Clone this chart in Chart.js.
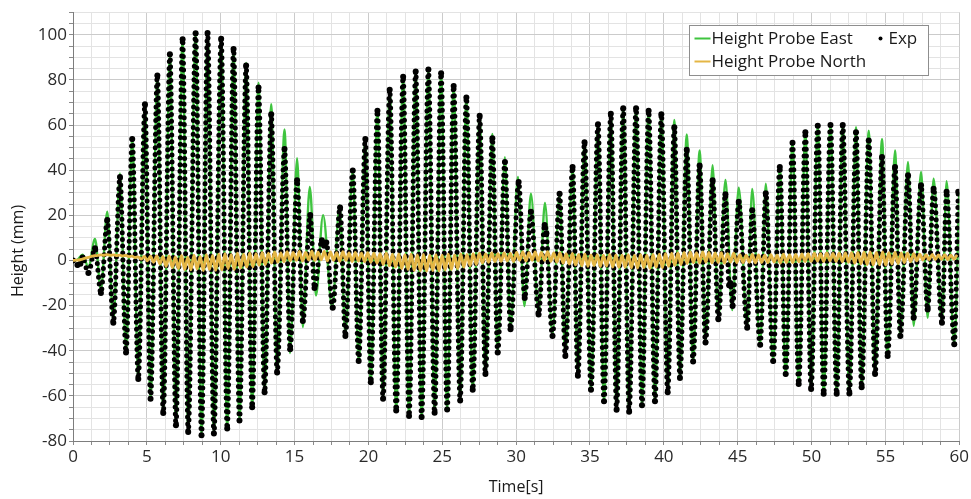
<!DOCTYPE html>
<html>
<head>
<meta charset="utf-8">
<script src="https://cdn.jsdelivr.net/npm/chart.js@4/dist/chart.umd.min.js"></script>
<style>
  html, body { margin: 0; padding: 0; background: #ffffff; }
  #wrap { width: 971px; height: 499px; }
</style>
</head>
<body>
<div id="wrap"><canvas id="c" width="971" height="499"></canvas></div>
<script>
// Wave height at the east probe: simulated turning points (time in s, height in mm)
const eastTime = [
  0, 0.3, 0.65, 1.04, 1.49, 1.89, 2.32, 2.73, 3.18, 3.59,
  4.01, 4.42, 4.87, 5.25, 5.71, 6.11, 6.56, 6.97, 7.42, 7.8,
  8.3, 8.7, 9.11, 9.54, 10.03, 10.44, 10.87, 11.27, 11.72, 12.13,
  12.56, 12.97, 13.42, 13.82, 14.32, 14.7, 15.17, 15.56, 16.03, 16.45,
  16.93, 17.55, 18.05, 18.45, 18.93, 19.35, 19.79, 20.16, 20.61, 20.99,
  21.44, 21.88, 22.35, 22.75, 23.2, 23.6, 24.06, 24.48, 24.92, 25.33,
  25.77, 26.21, 26.63, 27.06, 27.53, 27.92, 28.39, 28.75, 29.24, 29.62,
  30.12, 30.56, 31.0, 31.52, 31.95, 32.46, 32.94, 33.33, 33.82, 34.18,
  34.63, 35.07, 35.54, 35.95, 36.41, 36.8, 37.25, 37.65, 38.12, 38.52,
  38.97, 39.4, 39.83, 40.26, 40.71, 41.09, 41.55, 41.98, 42.42, 42.82,
  43.3, 43.69, 44.17, 44.63, 45.07, 45.64, 45.98, 46.52, 46.9, 47.4,
  47.85, 48.25, 48.71, 49.13, 49.58, 49.97, 50.42, 50.82, 51.28, 51.7,
  52.11, 52.56, 53.01, 53.39, 53.87, 54.3, 54.77, 55.15, 55.65, 56.01,
  56.53, 56.91, 57.41, 57.86, 58.26, 58.83, 59.14, 59.66, 60
];
const eastHeight = [
  0, 0.3, 2.6, -3.0, 9.5, -13.0, 21.6, -27.0, 38.5, -40.8,
  53.8, -52.5, 69.2, -61.3, 82.0, -67.6, 91.4, -73.0, 98.0, -76.0,
  100.7, -77.5, 100.8, -76.7, 98.2, -74.5, 93.7, -70.9, 87.5, -65.0,
  78.8, -58.4, 69.2, -50.5, 58.0, -41.0, 45.3, -29.5, 32.6, -15.5,
  20.1, -21.0, 24.5, -33.0, 40.0, -44.5, 53.8, -54.0, 66.3, -61.3,
  75.6, -66.5, 81.4, -68.9, 83.7, -69.4, 84.6, -67.5, 82.9, -66.0,
  77.3, -62.1, 72.2, -57.3, 64.1, -50.3, 56.0, -40.8, 45.8, -30.5,
  37.0, -20.2, 29.6, -23.9, 25.5, -33.0, 29.6, -42.3, 41.4, -51.1,
  52.4, -57.3, 60.4, -62.4, 65.0, -66.1, 67.4, -67.0, 67.4, -64.2,
  67.0, -62.4, 65.5, -58.4, 62.3, -52.1, 55.8, -44.8, 48.7, -36.4,
  42.2, -26.1, 35.7, -22.0, 32.2, -29.8, 31.7, -37.4, 34.0, -44.5,
  41.4, -50.3, 52.1, -54.7, 56.8, -57.0, 59.7, -59.1, 60.0, -59.1,
  60.5, -59.0, 59.0, -56.2, 57.5, -50.3, 53.8, -42.3, 48.7, -33.5,
  43.6, -29.0, 39.2, -25.4, 36.2, -27.6, 35.1, -37.1, 30.0
];

// Measured wave height (experiment), turning points
const expTime = [
  0, 0.3, 0.5, 0.65, 1.04, 1.49, 1.89, 2.32, 2.73, 3.18, 3.59,
  4.01, 4.42, 4.87, 5.25, 5.71, 6.11, 6.56, 6.97, 7.42, 7.8,
  8.3, 8.7, 9.11, 9.54, 10.03, 10.44, 10.87, 11.27, 11.72, 12.13,
  12.56, 12.97, 13.42, 13.82, 14.32, 14.7, 15.17, 15.56, 16.06, 16.35,
  16.85, 17.0, 17.15, 17.58, 18.08, 18.44, 18.94, 19.34, 19.79, 20.16,
  20.61, 20.99, 21.44, 21.88, 22.35, 22.75, 23.2, 23.6, 24.06, 24.48,
  24.92, 25.33, 25.77, 26.21, 26.63, 27.06, 27.53, 27.92, 28.39, 28.75,
  29.24, 29.62, 30.17, 30.58, 31.0, 31.52, 31.93, 32.05, 32.46, 32.94,
  33.33, 33.82, 34.18, 34.63, 35.07, 35.54, 35.95, 36.41, 36.8, 37.25,
  37.65, 38.12, 38.52, 38.97, 39.4, 39.83, 40.26, 40.71, 41.09, 41.55,
  41.98, 42.42, 42.82, 43.3, 43.69, 44.17, 44.42, 44.5, 44.65, 45.07,
  45.64, 45.98, 46.52, 46.9, 47.4, 47.85, 48.25, 48.71, 49.13, 49.58,
  49.97, 50.42, 50.82, 51.28, 51.7, 52.11, 52.56, 53.01, 53.39, 53.87,
  54.3, 54.77, 55.15, 55.65, 56.01, 56.53, 56.91, 57.41, 57.86, 58.26,
  58.83, 59.14, 59.66, 59.93
];
const expHeight = [
  0, -2.0, -1.5, 1.3, -5.6, 5.4, -14.4, 17.9, -27.6, 37.0, -40.8,
  53.8, -52.5, 69.2, -61.3, 82.0, -67.6, 91.4, -73.0, 98.0, -76.0,
  100.7, -77.5, 100.8, -76.7, 98.2, -74.5, 93.7, -70.9, 86.4, -65.0,
  76.6, -58.4, 64.8, -49.6, 49.4, -39.3, 35.5, -26.8, 20.1, -12.2,
  9.0, 6.5, 8.0, -21.0, 23.5, -33.5, 39.9, -44.5, 53.8, -54.0,
  66.3, -61.3, 75.6, -66.5, 81.4, -68.9, 83.7, -69.4, 84.6, -67.5,
  82.9, -66.0, 77.3, -62.1, 72.2, -57.3, 64.1, -50.3, 54.1, -40.8,
  43.6, -30.5, 34.8, -16.6, 21.6, -23.9, 15.7, 12.0, -33.5, 29.6,
  -42.3, 41.4, -51.1, 52.4, -57.3, 60.4, -62.4, 65.0, -66.1, 67.4,
  -67.0, 67.4, -64.2, 66.3, -62.4, 64.8, -58.4, 59.0, -52.1, 49.0,
  -44.8, 42.1, -36.4, 35.5, -26.1, 29.3, -11.0, -10.0, -20.2, 26.0,
  -29.8, 22.3, -37.4, 29.8, -44.5, 41.4, -50.3, 52.1, -54.7, 56.8,
  -57.0, 59.7, -59.1, 60.0, -59.1, 60.0, -59.0, 56.8, -56.2, 53.1,
  -50.3, 45.8, -42.3, 41.4, -33.5, 37.7, -25.4, 33.3, -21.7, 31.8,
  -27.6, 30.4, -37.1, 30.4
];

// Wave height at the north probe, sampled every northStep seconds
const northStep = 0.21;
const northHeight = [
  0, 0.1, 0.2, 0.6,
  1.0, 1.4, 1.8, 2.1, 2.2, 2.5, 2.3, 2.6, 2.3, 2.5, 2.2, 2.4, 2.0, 2.2, 1.7, 1.9, 1.3, 1.6,
  0.6, 1.8, -0.2, 1.9, -0.8, 2.0, -1.5,
  1.8, -2.6, 2.0, -3.2, 1.6, -3.6, 2.2, -4.0, 1.5, -4.2, 2.4, -3.8, 1.8, -4.5, 2.6, -4.0, 2.2, -4.4, 2.8,
  -4.2, 3.0, -3.6, 2.6, -4.0, 3.2, -3.4, 2.8, -3.0, 3.4, -2.8, 3.0, -2.2, 3.6, -1.8, 3.2, -1.2, 3.8, -0.8, 3.4, -0.6, 3.9, -0.2, 3.6,
  0.0, 4.0, -0.3, 3.6, 0.2, 4.1, 0.0, 3.7, 0.3, 4.0, -0.2, 3.8, 0.1, 3.5, -0.4, 3.9, 0.0, 3.4, -0.5, 3.6, -0.3, 3.2, -0.6, 3.5,
  -0.8, 3.2, -1.2, 3.0, -1.8, 3.3, -2.4, 2.8, -3.0, 2.9, -3.6, 2.6, -4.0, 2.8,
  -4.4, 2.5, -4.6, 2.7, -4.8, 2.4, -4.5, 2.6, -4.7, 2.3, -4.2, 2.8, -4.0, 2.5, -3.6, 2.9, -3.0, 2.7, -2.4,
  3.0, -1.8, 3.2, -1.2, 2.9, -0.8, 3.3, -0.5, 3.0, -0.4, 3.4, -0.2, 3.1, -0.5, 3.6, 0.0, 3.8, -0.3, 3.5,
  0.1, 3.8, -0.2, 3.6, 0.0, 3.9, -0.4, 3.4, -0.8, 3.5, -1.2, 3.0, -1.6, 3.1,
  -2.0, 2.7, -2.4, 2.9, -2.6, 2.5, -2.3, 2.6, -2.7, 2.4, -2.5, 2.7, -2.9, 2.5, -3.1, 2.3, -3.0, 2.6, -3.3,
  2.4, -3.4, 2.6, -3.2, 2.3, -3.5, 2.7, -3.0, 2.8, -3.2, 3.0, -2.6, 3.2, -2.2, 3.4,
  -1.8, 3.6, -1.4, 3.8, -1.0, 3.5, -1.2, 3.8, -0.8, 3.6, -1.1, 3.3, -0.9, 3.5, -1.2, 3.0, -0.7, 3.2, -1.0,
  2.6, -1.0, 2.4, -0.8, 2.7, -1.1, 2.5, -0.9, 2.3, -1.0, 2.6, -0.7, 2.4, -1.2, 2.8, -0.9, 2.5, -1.0, 2.7, -0.6, 2.9, -0.5, 3.0,
  -0.4, 3.2, -0.3, 3.0, -0.5, 3.3, -0.2, 3.1, -0.4, 3.2, -0.6, 3.4, -0.8, 3.5, -1.2, 3.6, -1.5, 3.7, -1.8,
  3.8, -2.0, 3.6, -1.9, 3.8, -2.1, 3.5, -1.6, 3.7, -1.4, 3.4, -1.0, 3.2, -0.6, 3.0,
  -0.2, 2.8, 0.2, 2.6, 0.3, 2.7, 0.4, 2.5, 0.5, 2.6, 0.3, 2.4, 0.6, 2.5
];

// Axis ticks: labelled values, with four grid divisions between labels
const timeTicks = [0, 5, 10, 15, 20, 25, 30, 35, 40, 45, 50, 55, 60];
const heightTicks = [-80, -60, -40, -20, 0, 20, 40, 60, 80, 100];

const seriesNames = { east: 'Height Probe East', north: 'Height Probe North', exp: 'Exp' };
const colors = { east: '#3fc43f', north: '#e4b645', exp: '#000000' };

const toPoints = (xs, ys) => ys.map((y, i) => ({ x: xs[i], y }));
const northTime = northHeight.map((_, i) => +(i * northStep).toFixed(2));

const FONT = '"Open Sans", "Noto Sans", sans-serif';

// Framed legend inside the plot, top right
const insetLegend = {
  id: 'insetLegend',
  afterDraw(chart) {
    const ctx = chart.ctx;
    const x0 = 689.5, y0 = 25.5, w = 239, h = 50;
    ctx.save();
    ctx.fillStyle = '#ffffff';
    ctx.fillRect(x0, y0, w, h);
    ctx.strokeStyle = '#8e8e8e';
    ctx.lineWidth = 1;
    ctx.strokeRect(x0, y0, w, h);
    ctx.font = '17px ' + FONT;
    ctx.textBaseline = 'middle';
    ctx.textAlign = 'left';
    const rows = [
      { y: y0 + 13, color: colors.east, text: seriesNames.east },
      { y: y0 + 36, color: colors.north, text: seriesNames.north }
    ];
    rows.forEach(r => {
      ctx.strokeStyle = r.color;
      ctx.lineWidth = 2;
      ctx.beginPath();
      ctx.moveTo(x0 + 5, r.y);
      ctx.lineTo(x0 + 21, r.y);
      ctx.stroke();
      ctx.fillStyle = '#1a1a1a';
      ctx.fillText(r.text, x0 + 22, r.y + 1);
    });
    ctx.fillStyle = colors.exp;
    ctx.beginPath();
    ctx.arc(x0 + 191, y0 + 13, 2, 0, Math.PI * 2);
    ctx.fill();
    ctx.fillStyle = '#1a1a1a';
    ctx.fillText(seriesNames.exp, x0 + 199, y0 + 14);
    ctx.restore();
  }
};

// Vertical axis title
const heightTitle = {
  id: 'heightTitle',
  afterDraw(chart) {
    const ctx = chart.ctx;
    ctx.save();
    ctx.translate(18, 251);
    ctx.rotate(-Math.PI / 2);
    ctx.font = '16px ' + FONT;
    ctx.fillStyle = '#1a1a1a';
    ctx.textAlign = 'center';
    ctx.textBaseline = 'middle';
    ctx.fillText('Height (mm)', 0, 0);
    ctx.restore();
  }
};

new Chart(document.getElementById('c'), {
  type: 'line',
  data: {
    datasets: [
      {
        label: seriesNames.north,
        data: toPoints(northTime, northHeight),
        borderColor: colors.north,
        borderWidth: 2.8,
        pointRadius: 0,
        cubicInterpolationMode: 'monotone',
        order: 0
      },
      {
        label: seriesNames.exp,
        data: toPoints(expTime, expHeight),
        borderColor: colors.exp,
        borderWidth: 5,
        borderDash: [0, 6.8],
        borderCapStyle: 'round',
        borderJoinStyle: 'round',
        pointRadius: 3,
        pointBorderWidth: 0,
        pointBackgroundColor: colors.exp,
        cubicInterpolationMode: 'monotone',
        order: 1
      },
      {
        label: seriesNames.east,
        data: toPoints(eastTime, eastHeight),
        borderColor: colors.east,
        borderWidth: 2.4,
        pointRadius: 0,
        cubicInterpolationMode: 'monotone',
        order: 2
      }
    ]
  },
  options: {
    responsive: false,
    animation: false,
    devicePixelRatio: 1,
    layout: { padding: { top: 9, right: 11, left: 0, bottom: 0 } },
    plugins: {
      legend: { display: false },
      tooltip: { enabled: false }
    },
    scales: {
      x: {
        type: 'linear',
        min: 0,
        max: 60,
        afterFit(scale) { scale.height = 58; },
        ticks: {
          stepSize: 1.25,
          autoSkip: false,
          maxRotation: 0,
          padding: 2,
          color: '#2a2a2a',
          font: { family: FONT, size: 17 },
          callback: v => (timeTicks.includes(v) ? v : '')
        },
        grid: {
          color: c => (c.tick && timeTicks.includes(c.tick.value)) ? '#cbcbcb' : '#e3e3e3',
          tickColor: '#8a8a8a',
          tickLength: 4
        },
        border: { color: '#7d7d7d', width: 1 },
        title: {
          display: true,
          text: 'Time[s]',
          color: '#1a1a1a',
          font: { family: FONT, size: 16 },
          padding: { top: 0, bottom: 2 }
        }
      },
      y: {
        type: 'linear',
        min: -80,
        max: 110,
        afterFit(scale) { scale.width = 73; },
        ticks: {
          stepSize: 5,
          autoSkip: false,
          padding: 2,
          color: '#2a2a2a',
          font: { family: FONT, size: 17 },
          callback: v => (heightTicks.includes(v) ? v : '')
        },
        grid: {
          color: c => (c.tick && heightTicks.includes(c.tick.value)) ? '#cbcbcb' : '#e3e3e3',
          tickColor: '#8a8a8a',
          tickLength: 4
        },
        border: { color: '#7d7d7d', width: 1 }
      }
    }
  },
  plugins: [insetLegend, heightTitle]
});
</script>
</body>
</html>
